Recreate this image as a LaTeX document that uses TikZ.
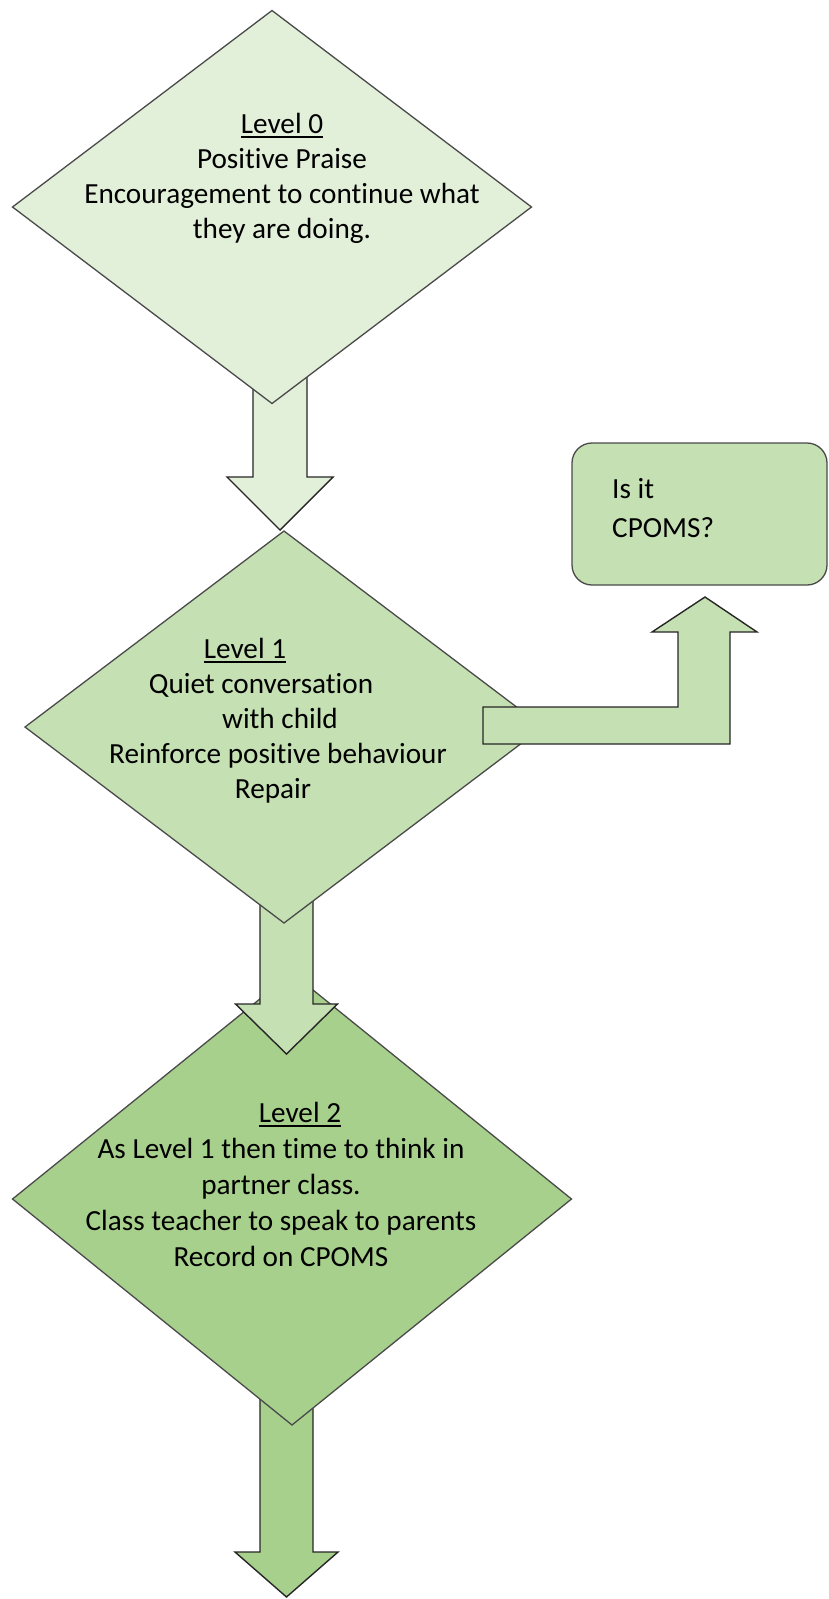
\documentclass[tikz,border=0pt]{standalone}
\usepackage{fontspec}
\setmainfont{Carlito}[Ligatures=NoCommon]
\usetikzlibrary{shapes.geometric,calc}
\definecolor{gA}{HTML}{E2EFD9}
\definecolor{gB}{HTML}{C5E0B3}
\definecolor{gC}{HTML}{A8D08D}
\definecolor{edgec}{HTML}{4A4A4A}
\pgfdeclarelayer{la}\pgfdeclarelayer{lb}\pgfdeclarelayer{lc}\pgfdeclarelayer{ld}\pgfdeclarelayer{le}
\pgfsetlayers{la,lb,lc,ld,le,main}
\newcommand{\ulbox}[1]{\setbox0=\hbox{#1}\rlap{\rule[-4.5pt]{\wd0}{1.8pt}}\box0}
\tikzset{
  dia/.style={diamond, draw=edgec, line width=1.3pt, inner sep=0pt, outer sep=0pt},
  barrow/.style={draw=black!85, line width=1.4pt, line join=miter},
  txt/.style={inner sep=0pt, anchor=base, font=\fontsize{29.2}{35.6}\selectfont},
  txtl/.style={txt, anchor=base west},
  boxc/.style={draw=edgec, line width=1.3pt, rounded corners=20pt, fill=gB, inner sep=0pt}
}
\begin{document}
\begin{tikzpicture}[x=1pt,y=-1pt]
\useasboundingbox (0,0) rectangle (828,1599);
% diamonds
\node[dia, fill=gA, minimum width=519pt, minimum height=393pt] (d0) at (272,207) {};
\begin{pgfonlayer}{ld}
\node[dia, fill=gB, minimum width=518pt, minimum height=392pt] (d1) at (284,727) {};
\end{pgfonlayer}
\begin{pgfonlayer}{lb}
\node[dia, fill=gC, minimum width=559pt, minimum height=452pt] (d2) at (292,1199) {};
\end{pgfonlayer}
% CPOMS box
\node[boxc, minimum width=255pt, minimum height=142pt] (cp) at (699.5,514) {};
% arrows
\begin{pgfonlayer}{le}
\draw[barrow, fill=gA] ($(d1.north)+(-4,-1)$) -- ++(53,-53) -- ++(-26,0) -- ++(0,-107) -- ++(-54,0) -- ++(0,107) -- ++(-26,0) -- cycle;
\draw[barrow, fill=gB] ($(d1.east)+(-60,-20)$) -- ++(195,0) -- ++(0,-75) -- ++(-26,0) -- ++(53,-35) -- ++(52,35) -- ++(-27,0) -- ++(0,112) -- ++(-247,0) -- cycle;
\end{pgfonlayer}
\begin{pgfonlayer}{lc}
\draw[barrow, fill=gB] ($(d1.south)+(2.5,131)$) -- ++(51,-50) -- ++(-24.5,0) -- ++(0,-120) -- ++(-53,0) -- ++(0,120) -- ++(-24.5,0) -- cycle;
\end{pgfonlayer}
\begin{pgfonlayer}{la}
\draw[barrow, fill=gC] ($(d2.south)+(-5.5,172)$) -- ++(51.5,-45) -- ++(-25,0) -- ++(0,-170) -- ++(-53,0) -- ++(0,170) -- ++(-25,0) -- cycle;
\end{pgfonlayer}
% texts level 0
\node[txt] (t0a) at (282,133) {\ulbox{Level 0}};
\node[txt] (t0b) at (282,168) {Positive Praise};
\node[txt] (t0c) at (282,203) {Encouragement to continue what};
\node[txt] (t0d) at (282,238) {they are doing.};
% level 1
\node[txt] (t1a) at (245,658) {\ulbox{Level 1}};
\node[txt] (t1b) at (261,693) {Quiet conversation};
\node[txt] (t1c) at (280,728) {with child};
\node[txt] (t1d) at (278,763) {Reinforce positive behaviour};
\node[txt] (t1e) at (273,798) {Repair};
% level 2
\node[txt] (t2a) at (300,1122) {\ulbox{Level 2}};
\node[txt] (t2b) at (281,1158) {As Level 1 then time to think in};
\node[txt] (t2c) at (281,1194) {partner class.};
\node[txt] (t2d) at (281,1230) {Class teacher to speak to parents};
\node[txt] (t2e) at (281,1266) {Record on CPOMS};
% box text
\node[txtl] (ca) at (612,498) {Is it};
\node[txtl] (cb) at (612,537) {CPOMS?};
\end{tikzpicture}
\end{document}
